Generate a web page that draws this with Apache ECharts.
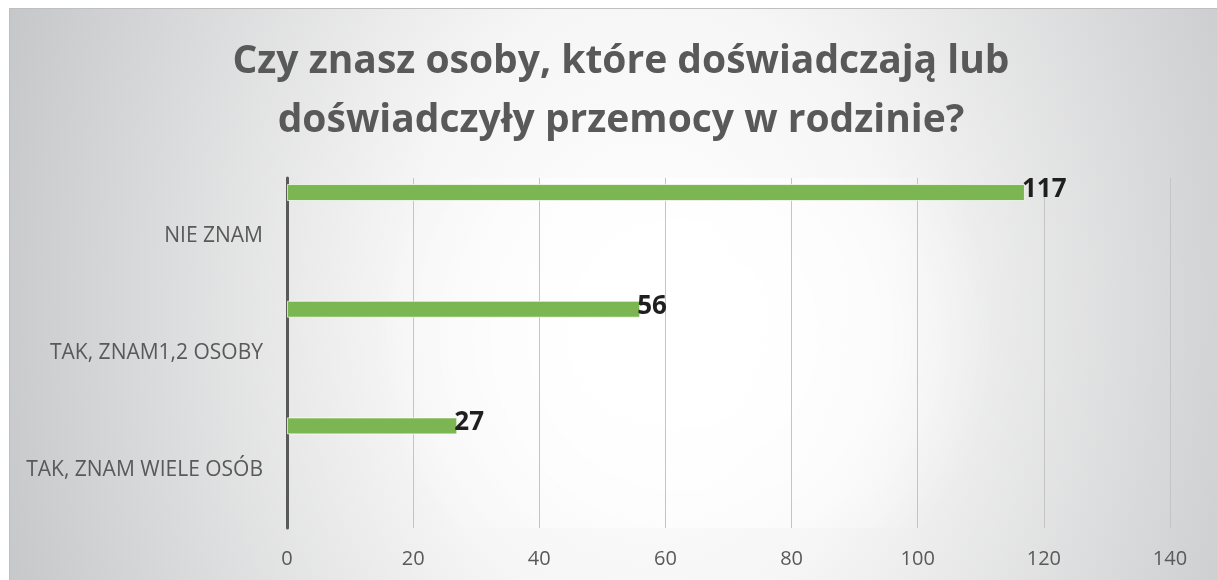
<!DOCTYPE html>
<html>
<head>
<meta charset="utf-8">
<script src="https://cdn.jsdelivr.net/npm/echarts@6/dist/echarts.min.js"></script>
<style>
  html, body { margin: 0; padding: 0; background: #ffffff; }
  #frame {
    position: absolute; left: 9px; top: 8px; width: 1210px; height: 575px;
    border: 1px solid #bfbfbf;
    background: radial-gradient(700px 900px at 640px 300px, #ffffff 0%, #f6f6f6 35%, #c4c5c7 100%);
  }
  #chart { position: absolute; left: 0; top: 0; width: 1217px; height: 580px; }
</style>
</head>
<body>
<div id="frame"></div>
<div id="chart"></div>
<script>
// dane z wykresu
var categories = ['NIE ZNAM', 'TAK, ZNAM1,2 OSOBY', 'TAK, ZNAM WIELE OSÓB'];
var counts = [117, 56, 27];
var emptySlot = ['-', '-', '-']; // pusta seria, żeby przesunąć słupki w górę pasma
var xMin = 0, xMax = 140, xStep = 20;

var chart = echarts.init(document.getElementById('chart'));

var option = {
    backgroundColor: 'transparent',
    animation: false,
    title: {
        text: 'Czy znasz osoby, które doświadczają lub\ndoświadczyły przemocy w rodzinie?',
        left: 616,
        top: 27,
        textAlign: 'center',
        textStyle: {
            fontFamily: 'Open Sans',
            fontSize: 39,
            fontWeight: 'bold',
            color: '#595959',
            lineHeight: 59
        }
    },
    grid: {
        left: 287,
        right: 47,
        top: 178,
        bottom: 52,
        show: true,
        borderWidth: 0,
        backgroundColor: {
            type: 'radial', x: 0.45, y: 0.45, r: 0.9,
            colorStops: [
                { offset: 0, color: 'rgba(255,255,255,1)' },
                { offset: 0.6, color: 'rgba(255,255,255,0.6)' },
                { offset: 1, color: 'rgba(255,255,255,0)' }
            ]
        }
    },
    xAxis: {
        type: 'value',
        min: xMin,
        max: xMax,
        interval: xStep,
        axisLine: { show: false },
        axisTick: { show: false },
        axisLabel: {
            fontFamily: 'Open Sans',
            fontSize: 20,
            color: '#595959',
            margin: 21
        },
        splitLine: { lineStyle: { color: '#c4c4c4', width: 1 } }
    },
    yAxis: {
        type: 'category',
        inverse: true,
        data: categories,
        axisLine: { show: true, lineStyle: { color: '#595959', width: 3 } },
        axisTick: { show: false },
        axisLabel: {
            fontFamily: 'Open Sans',
            fontSize: 21,
            color: '#595959',
            margin: 24
        }
    },
    series: [{
        type: 'bar',
        data: counts,
        barWidth: 17,
        barGap: '415%',
        itemStyle: {
            color: '#7cb652',
            borderColor: 'rgba(255,255,255,0.7)',
            borderWidth: 1
        },
        label: {
            show: true,
            position: 'right',
            distance: 0,
            offset: [-3, -3],
            fontFamily: 'Open Sans',
            fontSize: 26,
            fontWeight: 'bold',
            color: '#1f1f1f'
        }
    }, {
        type: 'bar',
        data: emptySlot,
        barWidth: 17,
        silent: true,
        itemStyle: { color: 'transparent' }
    }]
};

chart.setOption(option);
</script>
</body>
</html>
